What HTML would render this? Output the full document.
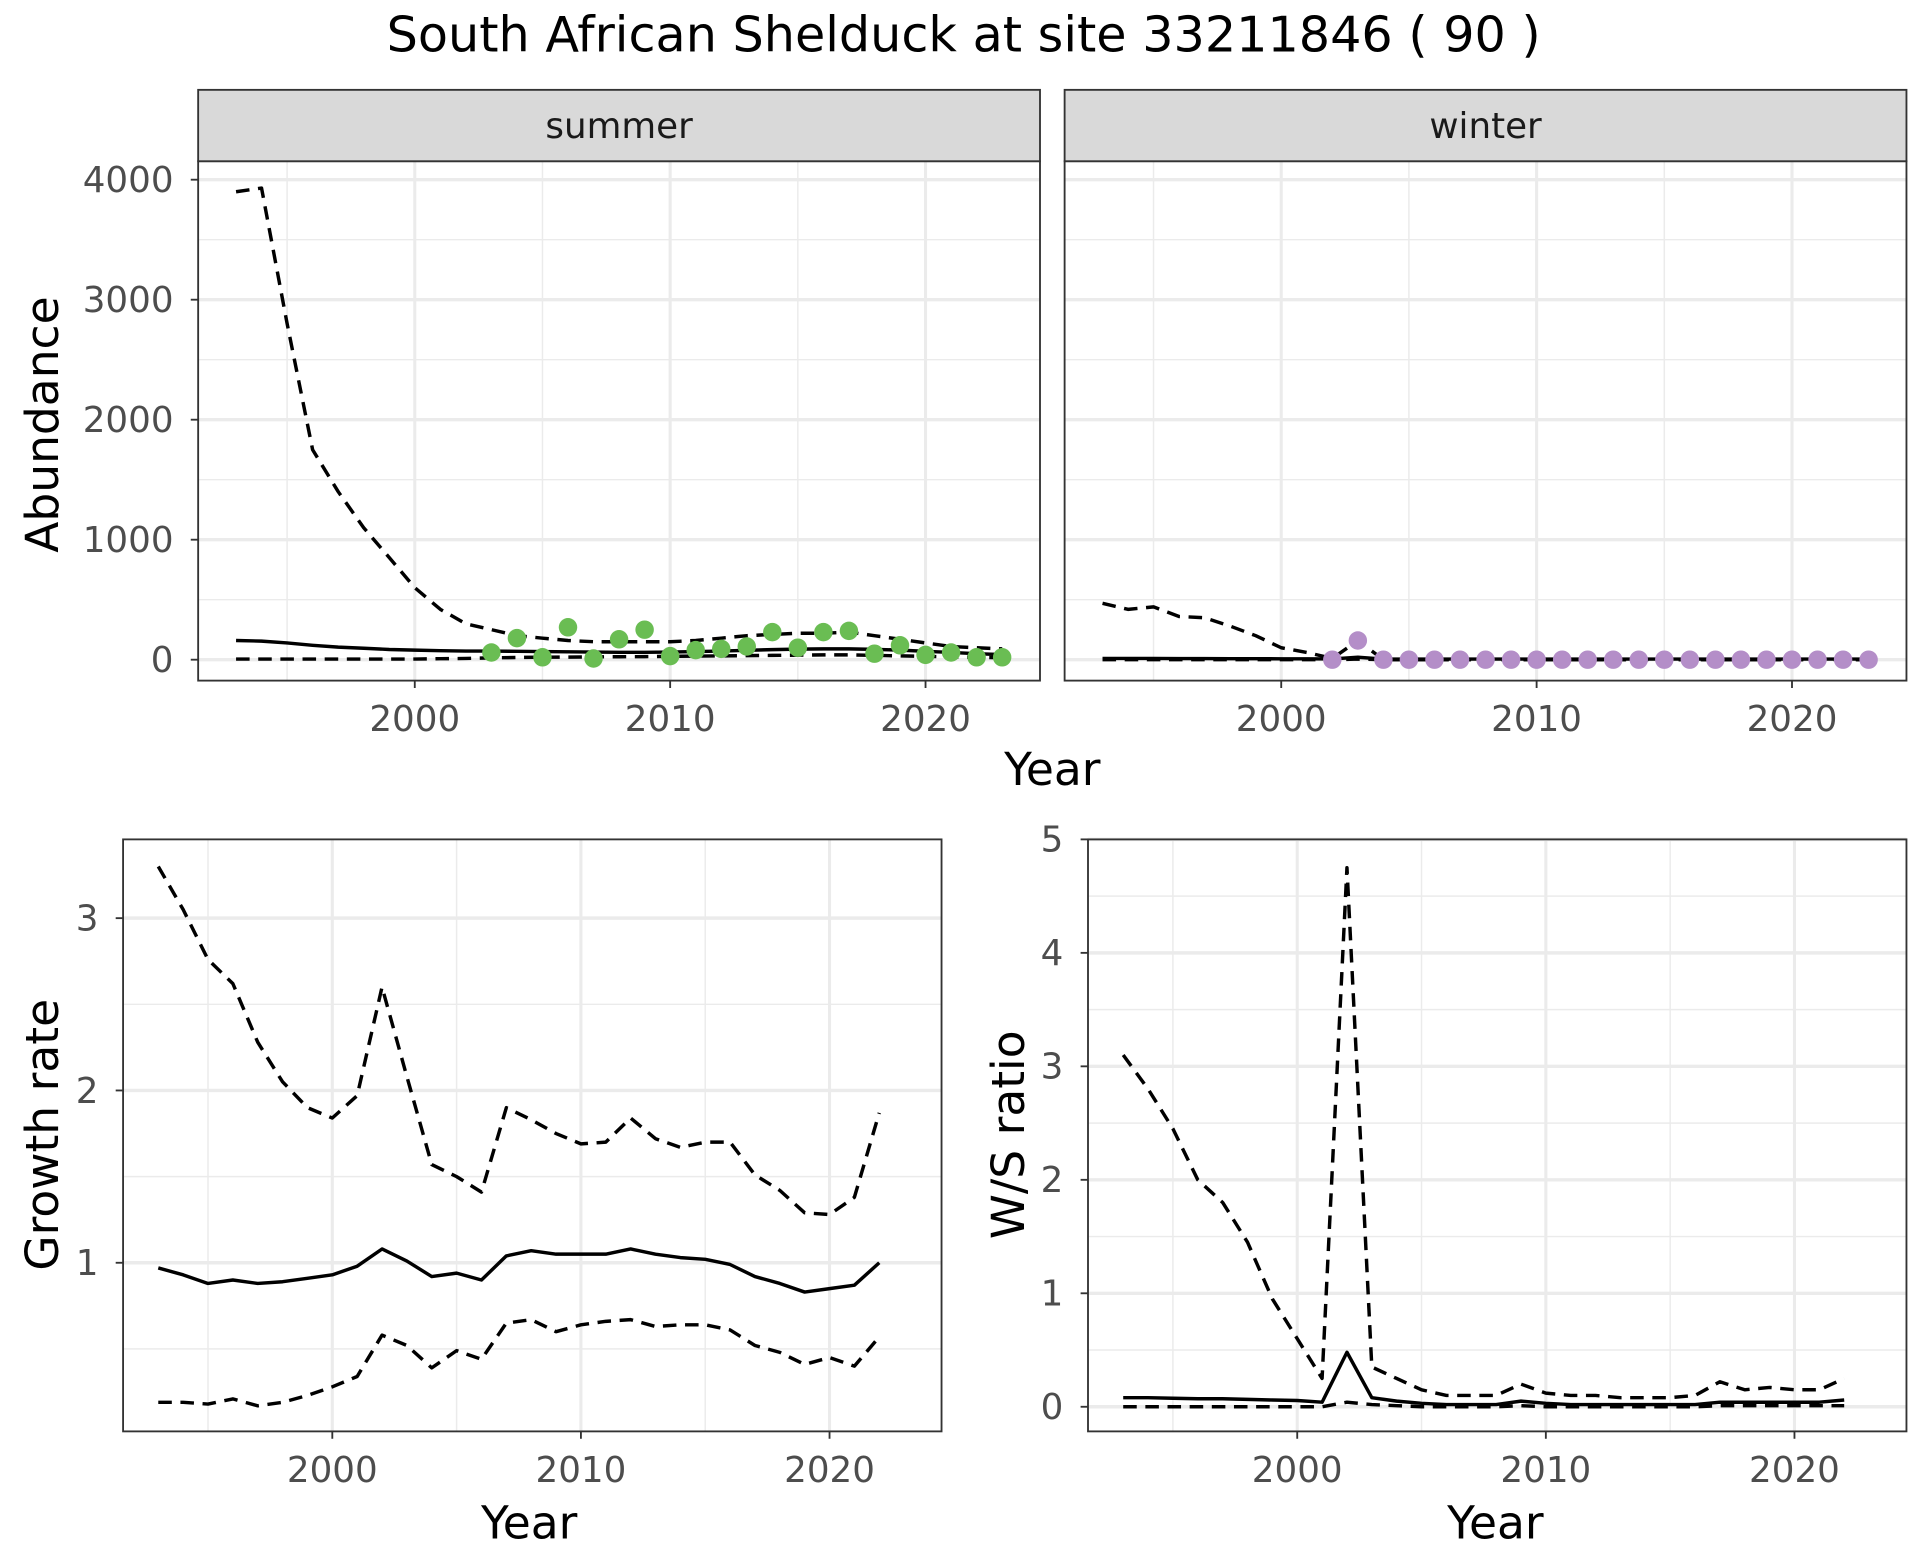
<!DOCTYPE html>
<html><head><meta charset="utf-8"><style>
html,body{margin:0;padding:0;background:#fff}
svg{display:block;font-family:"DejaVu Sans","Liberation Sans",sans-serif}
</style></head><body>
<svg id="c" width="1920" height="1560" viewBox="0 0 1560 1267.5" xmlns="http://www.w3.org/2000/svg">
<rect width="1560" height="1267.5" fill="#fff"/>
<text x="783" y="42" font-size="40" text-anchor="middle">South African Shelduck at site 33211846 ( 90 )</text>
</svg>
<script>
const years93_23 = [1993,1994,1995,1996,1997,1998,1999,2000,2001,2002,2003,2004,2005,2006,2007,2008,2009,2010,2011,2012,2013,2014,2015,2016,2017,2018,2019,2020,2021,2022,2023];
const sumUpper = [3900,3930,2800,1750,1400,1100,850,600,420,300,250,200,180,160,150,150,150,150,160,180,200,210,220,220,230,200,170,140,110,100,90];
const sumMean = [160,155,140,120,105,95,85,80,75,72,72,70,68,66,64,62,62,64,68,72,78,84,88,90,90,86,80,70,60,50,42];
const sumLower = [5,5,5,5,5,5,5,5,8,10,15,18,20,22,24,25,26,28,30,32,34,36,38,40,40,36,32,28,24,20,16];
const sumPtYears = [2003,2004,2005,2006,2007,2008,2009,2010,2011,2012,2013,2014,2015,2016,2017,2018,2019,2020,2021,2022,2023];
const sumPts = [60,180,20,270,10,170,250,30,80,90,110,230,100,230,240,50,120,40,60,20,20];
const winUpper = [470,420,440,360,350,280,200,100,60,10,160,0,0,0,0,0,0,0,0,0,0,0,0,0,0,0,0,0,0,0,0];
const winMean = [10,10,10,9,9,8,8,7,7,6,20,5,5,5,5,5,5,5,5,5,5,5,5,5,5,5,5,5,5,5,5];
const winLower = [0,0,0,0,0,0,0,0,0,0,5,0,0,0,0,0,0,0,0,0,0,0,0,0,0,0,0,0,0,0,0];
const winPtYears = [2002,2003,2004,2005,2006,2007,2008,2009,2010,2011,2012,2013,2014,2015,2016,2017,2018,2019,2020,2021,2022,2023];
const winPts = [0,160,0,0,0,0,0,0,0,0,0,0,0,0,0,0,0,0,0,0,0,0];
const years93_22 = years93_23.slice(0,30);
const grMean = [.97,.93,.88,.90,.88,.89,.91,.93,.98,1.08,1.01,.92,.94,.90,1.04,1.07,1.05,1.05,1.05,1.08,1.05,1.03,1.02,.99,.92,.88,.83,.85,.87,1.00];
const grUpper = [3.3,3.05,2.76,2.62,2.28,2.05,1.9,1.84,1.97,2.6,2.08,1.57,1.5,1.41,1.9,1.83,1.75,1.69,1.70,1.84,1.72,1.67,1.70,1.70,1.51,1.42,1.29,1.28,1.38,1.87];
const grLower = [.19,.19,.18,.21,.17,.19,.23,.28,.34,.58,.52,.39,.49,.44,.65,.67,.60,.64,.66,.67,.63,.64,.64,.61,.52,.48,.41,.45,.40,.57];
const wsUpper = [3.1,2.8,2.45,2.0,1.8,1.45,0.95,0.6,0.25,4.75,0.35,0.25,0.15,0.1,0.1,0.1,0.2,0.12,0.1,0.1,0.08,0.08,0.08,0.1,0.22,0.15,0.17,0.15,0.15,0.25];
const wsMean = [.08,.08,.075,.07,.07,.065,.06,.055,.04,.48,.08,.05,.03,.02,.02,.02,.05,.03,.02,.02,.02,.02,.02,.02,.04,.04,.04,.04,.04,.06];
const wsLower = [0,0,0,0,0,0,0,0,0,.04,.02,.01,0,0,0,0,.01,0,0,0,0,0,0,0,.01,.01,.01,.01,.01,.01];
const xTicks = [2000,2010,2020];
const abTicks = [0,1000,2000,3000,4000];
const grTicks = [1,2,3];
const wsTicks = [0,1,2,3,4,5];

const svg = document.getElementById('c');
const NS = 'http://www.w3.org/2000/svg';
function mk(tag, attrs, parent){const e=document.createElementNS(NS,tag);for(const k in attrs)e.setAttribute(k,attrs[k]);(parent||svg).appendChild(e);return e;}

function panel(name, x0,x1,y0,y1, xs, ys, yTicks, minorY, showYLabels){
  const g = mk('g',{});
  
  
  mk('rect',{x:x0,y:y0,width:x1-x0,height:y1-y0,fill:'#fff'},g);
  for(let yr=1995; yr<=2025; yr+=5){const X=xs(yr); if(X>x0&&X<x1) mk('line',{x1:X,x2:X,y1:y0,y2:y1,stroke:'#ebebeb','stroke-width':yr%10==0?2.5:1.2},g);}
  minorY.forEach(v=>{const Y=ys(v); if(Y>y0&&Y<y1) mk('line',{x1:x0,x2:x1,y1:Y,y2:Y,stroke:'#ebebeb','stroke-width':1.2},g);});
  yTicks.forEach(v=>{const Y=ys(v); if(Y>=y0-1&&Y<=y1) mk('line',{x1:x0,x2:x1,y1:Y,y2:Y,stroke:'#ebebeb','stroke-width':2.8},g);});
  mk('rect',{x:x0,y:y0,width:x1-x0,height:y1-y0,fill:'none',stroke:'#333','stroke-width':1.5},g);
  xTicks.forEach(v=>{const X=xs(v);mk('line',{x1:X,x2:X,y1:y1,y2:y1+6,stroke:'#333','stroke-width':1.5},g);
    const t=mk('text',{x:X,y:y1+41,'font-size':29,'text-anchor':'middle',fill:'#4d4d4d'},g);t.textContent=v;});
  if(showYLabels) yTicks.forEach(v=>{const Y=ys(v);mk('line',{x1:x0-6,x2:x0,y1:Y,y2:Y,stroke:'#333','stroke-width':1.5},g);
    const t=mk('text',{x:x0-20,y:Y+10,'font-size':29,'text-anchor':'end',fill:'#4d4d4d'},g);t.textContent=v;});
  return g;
}
function line(g, name, yrs, vals, xs, ys, dashed){
  const d = yrs.map((y,i)=>(i?'L':'M')+xs(y).toFixed(1)+','+ys(vals[i]).toFixed(1)).join(' ');
  const p = mk('path',{d:d,fill:'none',stroke:'#000','stroke-width':2.8,'stroke-dasharray':dashed?'11,7':'none','stroke-linejoin':'round'},g);
  
  
}
function pts(g, name, yrs, vals, xs, ys, col){
  yrs.forEach((y,i)=>{const c=mk('circle',{cx:xs(y),cy:ys(vals[i]),r:7.5,fill:col},g);
    
    });
}
function txt(name,x,y,s,str,rot){const t=mk('text',{x:x,y:y,'font-size':s,'text-anchor':'middle',transform:rot?`rotate(-90 ${x} ${y})`:''});t.textContent=str;
  
  }

const ysA = v=>536 - v*0.0975;
const xsS = y=>337 + (y-2000)*20.75;
const xsW = y=>1041 + (y-2000)*20.75;
const abMinor=[500,1500,2500,3500];
const gS = panel('summer-panel',161,845,131,553,xsS,ysA,abTicks,abMinor,true);
line(gS,'summer-upper-ci',years93_23,sumUpper,xsS,ysA,true);
line(gS,'summer-lower-ci',years93_23,sumLower,xsS,ysA,true);
line(gS,'summer-mean',years93_23,sumMean,xsS,ysA,false);
pts(gS,'summer-count-point',sumPtYears,sumPts,xsS,ysA,'#6abd53');
const gW = panel('winter-panel',865,1549,131,553,xsW,ysA,abTicks,abMinor,false);
line(gW,'winter-upper-ci',years93_23,winUpper,xsW,ysA,true);
line(gW,'winter-lower-ci',years93_23,winLower,xsW,ysA,true);
line(gW,'winter-mean',years93_23,winMean,xsW,ysA,false);
pts(gW,'winter-count-point',winPtYears,winPts,xsW,ysA,'#b48ec8');
[['summer-strip',161,845,'summer'],['winter-strip',865,1549,'winter']].forEach(s=>{
  const r=mk('rect',{x:s[1],y:73,width:s[2]-s[1],height:58,fill:'#d9d9d9',stroke:'#333','stroke-width':1.5});
  
  
  const t=mk('text',{x:(s[1]+s[2])/2,y:112,'font-size':29,'text-anchor':'middle',fill:'#1a1a1a'});t.textContent=s[3];
});
txt('abundance-y-title',47,345,37,'Abundance',true);
txt('top-x-title',855,638,37,'Year',false);

const ysG = v=>1026 - (v-1)*140;
const xsG = y=>270 + (y-2000)*20.2;
const gG = panel('growth-panel',100,765,682,1163,xsG,ysG,grTicks,[0.5,1.5,2.5],true);
line(gG,'growth-upper-ci',years93_22,grUpper,xsG,ysG,true);
line(gG,'growth-lower-ci',years93_22,grLower,xsG,ysG,true);
line(gG,'growth-mean',years93_22,grMean,xsG,ysG,false);
txt('growth-y-title',47,922,37,'Growth rate',true);
txt('growth-x-title',430,1250,37,'Year',false);

const ysR = v=>1143 - v*92.2;
const xsR = y=>1054 + (y-2000)*20.2;
const gR = panel('ws-panel',884,1549,682,1163,xsR,ysR,wsTicks,[0.5,1.5,2.5,3.5,4.5],true);
line(gR,'ws-upper-ci',years93_22,wsUpper,xsR,ysR,true);
line(gR,'ws-lower-ci',years93_22,wsLower,xsR,ysR,true);
line(gR,'ws-mean',years93_22,wsMean,xsR,ysR,false);
txt('ws-y-title',832,922,37,'W/S ratio',true);
txt('ws-x-title',1215,1250,37,'Year',false);
</script>
</body></html>
